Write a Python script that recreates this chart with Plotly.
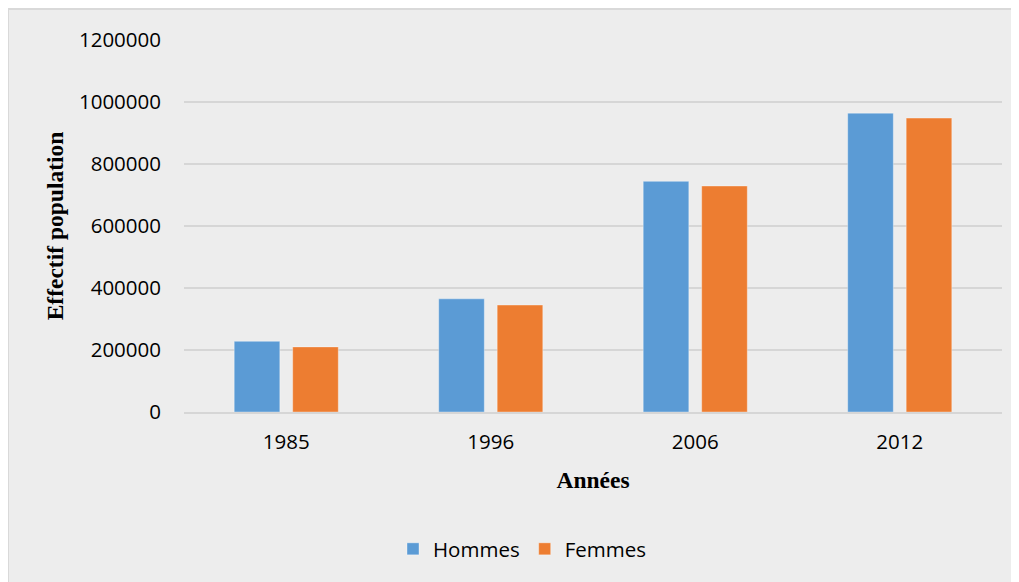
import plotly.graph_objects as go

years = ["1985", "1996", "2006", "2012"]
hommes = [228000, 365000, 744000, 964000]
femmes = [210000, 345000, 729000, 948000]
y_ticks = [0, 200000, 400000, 600000, 800000, 1000000, 1200000]

# page body has an 8px margin; figure sized to fill the rest of the window
OFF = 8
W, H = 1019 - OFF, 582 - OFF
L, R, T, B = 184 - OFF, 1019 - 1002, 40 - OFF, 582 - 412
pw, ph = W - L - R, H - T - B

def px_x(p):
    return (p - OFF - L) / pw

def px_y(p):
    return (H - B - (p - OFF)) / ph

fig = go.Figure()
fig.add_trace(go.Bar(name="Hommes", x=years, y=hommes, marker_color="#5B9BD5",
                     marker_line=dict(width=1, color="rgba(255,255,255,0.35)")))
fig.add_trace(go.Bar(name="Femmes", x=years, y=femmes, marker_color="#ED7D31",
                     marker_line=dict(width=1, color="rgba(255,255,255,0.35)")))

fig.update_layout(
    width=W, height=H,
    margin=dict(l=L, r=R, t=T, b=B, pad=0),
    paper_bgcolor="white",
    plot_bgcolor="rgba(0,0,0,0)",
    barmode="group",
    bargap=0.428,
    bargroupgap=0.22,
    font=dict(family="Open Sans", size=20.5, color="#000000"),
    showlegend=True,
    legend=dict(orientation="h", x=px_x(393), xanchor="left", y=px_y(549), yanchor="middle",
                font=dict(family="Open Sans", size=20.5, color="#000000"),
                bgcolor="rgba(0,0,0,0)"),
    shapes=[dict(type="rect", xref="paper", yref="paper",
                 x0=px_x(OFF), x1=px_x(1019 + 20), y0=px_y(9), y1=px_y(582 + 20),
                 fillcolor="#EDEDED", line=dict(color="#D9D9D9", width=2), layer="below")],
)

fig.update_yaxes(
    range=[0, 1200000], tickvals=y_ticks, tickformat="d",
    showgrid=True, gridcolor="#D6D6D6", gridwidth=1.5,
    zeroline=False, showline=False, ticks="",
    ticklabelstandoff=22,
    title=dict(text="<b>Effectif population</b>",
               font=dict(family="Liberation Serif", size=23.5, color="#000000"), standoff=8),
)
fig.update_xaxes(
    showgrid=False, zeroline=False, showline=True, linecolor="#D6D6D6", linewidth=1.5,
    ticks="", ticklabelstandoff=11,
    title=dict(text="<b>Années</b>",
               font=dict(family="Liberation Serif", size=23.5, color="#000000"), standoff=17),
)

fig.write_html("out.html")
